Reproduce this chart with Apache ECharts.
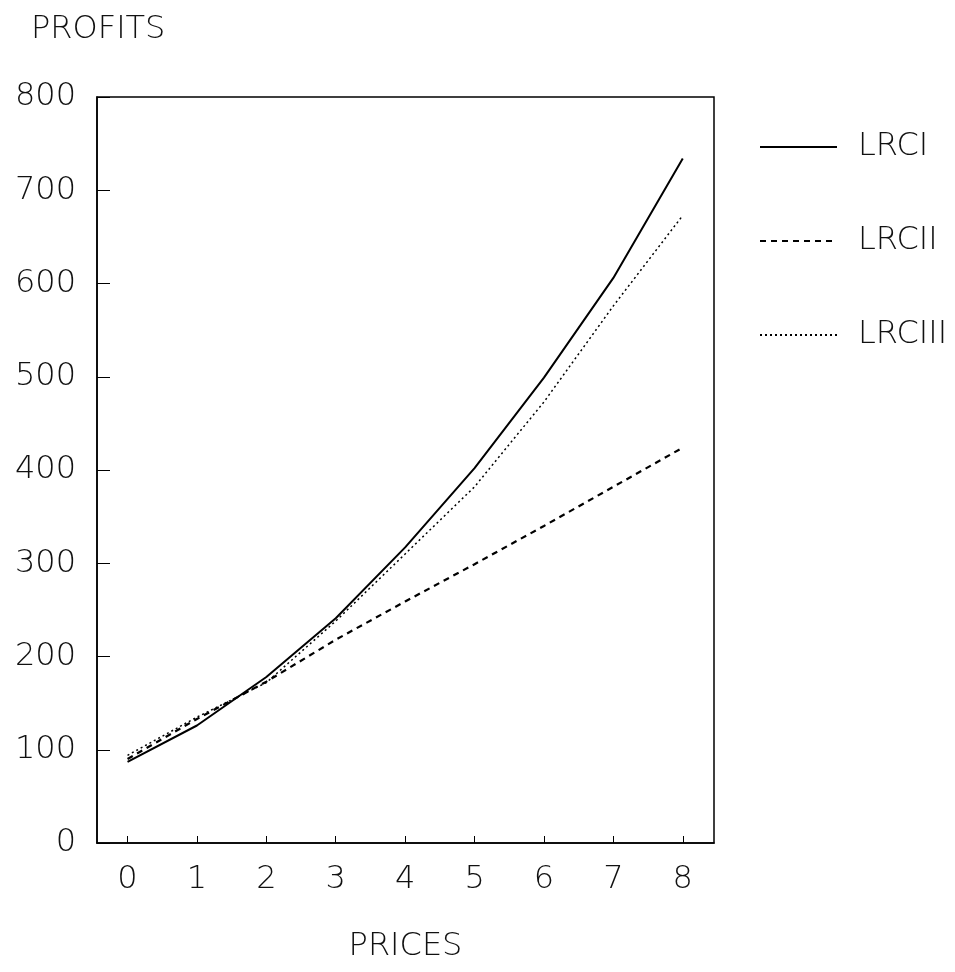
<!DOCTYPE html>
<html>
<head>
<meta charset="utf-8">
<script src="https://cdn.jsdelivr.net/npm/echarts@6/dist/echarts.min.js"></script>
<style>
  html, body { margin: 0; padding: 0; background: #fff; }
  #chart { width: 955px; height: 972px; }
</style>
</head>
<body>
<div id="chart"></div>
<script>
// prices on the x axis
let prices = [0, 1, 2, 3, 4, 5, 6, 7, 8];
// profits
let lrcI = [87, 126, 178, 241, 317, 402, 499, 606, 734];
let lrcII = [90, 133, 173, 218, 259, 299, 340, 382, 424];
let lrcIII = [94, 135, 172, 238, 310, 382, 473, 576, 673];
let yTicks = [0, 100, 200, 300, 400, 500, 600, 700, 800];

let font = "DejaVu Sans";
let ink = "#111";

function pairs(values) {
    return prices.map(function(p, i) {
        return [p, values[i]];
    });
}

let chart = echarts.init(document.getElementById("chart"), null, { renderer: "canvas" });
let option = {
    animation: false,
    backgroundColor: "#fff",
    title: {
        text: "PROFITS",
        left: 26,
        top: 9,
        textStyle: { fontFamily: font, fontSize: 32, fontWeight: 300, color: ink }
    },
    legend: {
        orient: "vertical",
        left: 754,
        top: 126,
        itemWidth: 77,
        itemHeight: 20,
        itemGap: 62,
        itemStyle: { color: "rgba(0,0,0,0)", borderWidth: 0 },
        textStyle: {
            fontFamily: font,
            fontSize: 32,
            fontWeight: 300,
            lineHeight: 32,
            color: ink,
            padding: [0, 0, 0, 16]
        },
        data: ["LRCI", "LRCII", "LRCIII"]
    },
    grid: {
        left: 97,
        right: 241,
        top: 97,
        bottom: 129,
        show: true,
        borderColor: "#000",
        borderWidth: 1.5
    },
    xAxis: {
        type: "value",
        min: -0.44,
        max: 8.45,
        name: "PRICES",
        nameLocation: "middle",
        nameGap: 88,
        nameTextStyle: { fontFamily: font, fontSize: 32, fontWeight: 300, color: ink },
        axisLine: { onZero: false, lineStyle: { color: "#000", width: 1.5 } },
        axisTick: { inside: true, length: 7, customValues: prices, lineStyle: { color: "#000" } },
        axisLabel: {
            customValues: prices,
            margin: 21,
            fontFamily: font,
            fontSize: 32,
            fontWeight: 300,
            color: ink
        },
        splitLine: { show: false }
    },
    yAxis: {
        type: "value",
        min: 0,
        max: 800,
        interval: 100,
        axisLine: { show: true, onZero: false, lineStyle: { color: "#000", width: 1.5 } },
        axisTick: { show: true, inside: true, length: 13, lineStyle: { color: "#000" } },
        axisLabel: {
            margin: 21,
            fontFamily: font,
            fontSize: 32,
            fontWeight: 300,
            color: ink,
            formatter: function(v) {
                return yTicks.indexOf(v) >= 0 ? String(v) : "";
            }
        },
        splitLine: { show: false }
    },
    series: [
        {
            name: "LRCI",
            type: "line",
            symbol: "none",
            color: "#000",
            lineStyle: { color: "#000", width: 2, type: "solid" },
            data: pairs(lrcI)
        },
        {
            name: "LRCII",
            type: "line",
            symbol: "none",
            color: "#000",
            lineStyle: { color: "#000", width: 2.2, type: [6, 5] },
            data: pairs(lrcII)
        },
        {
            name: "LRCIII",
            type: "line",
            symbol: "none",
            color: "#000",
            lineStyle: { color: "#000", width: 1.5, type: [2, 3] },
            data: pairs(lrcIII)
        }
    ]
};
chart.setOption(option, true);
window.onresize = () => {
    chart.resize();
};
</script>
</body>
</html>
